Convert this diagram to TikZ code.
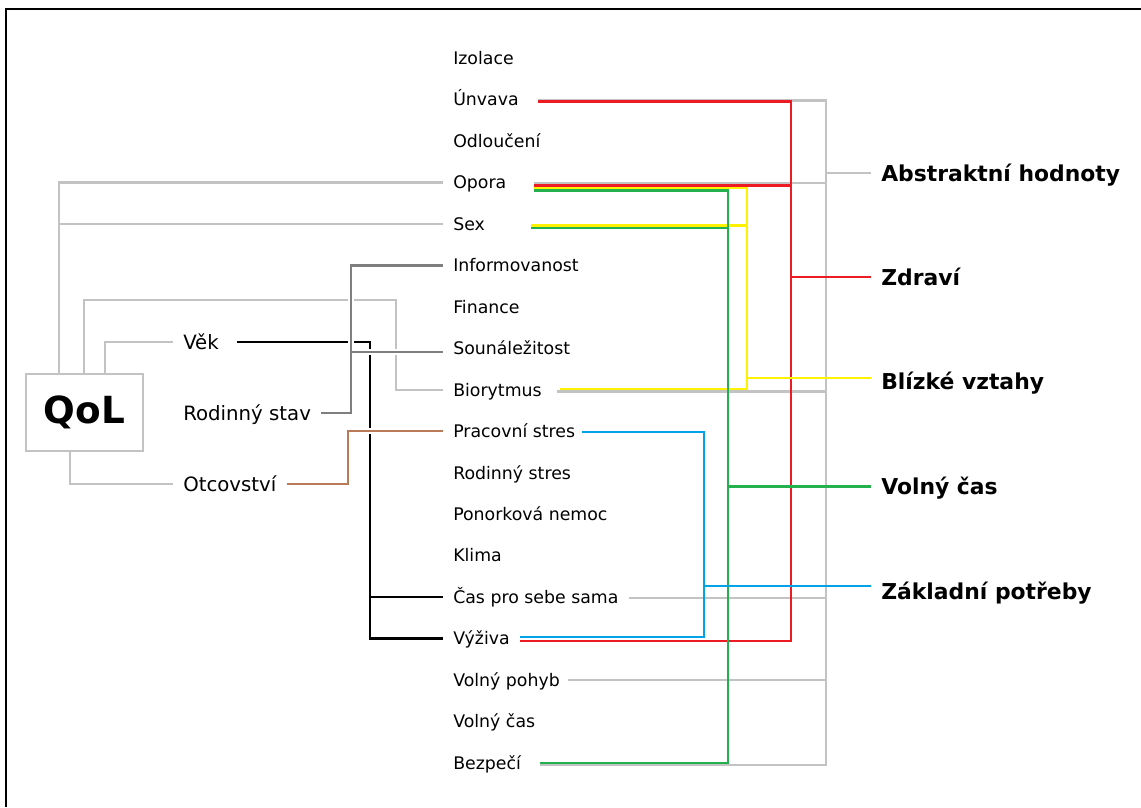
\documentclass[tikz,border=0pt]{standalone}
\usepackage{fontspec}
\setmainfont{DejaVu Sans}
\usetikzlibrary{calc}

\definecolor{cLight}{RGB}{195,195,195}
\definecolor{cDark}{RGB}{127,127,127}
\definecolor{cBrown}{RGB}{185,122,87}
\definecolor{cRed}{RGB}{237,28,36}
\definecolor{cYellow}{RGB}{255,242,0}
\definecolor{cGreen}{RGB}{34,177,76}
\definecolor{cBlue}{RGB}{0,162,232}

\begin{document}
\begin{tikzpicture}[x=0.75pt,y=0.75pt,yscale=-1,xscale=1,
  lbl/.style={anchor=west,inner xsep=7.5pt,inner ysep=0pt,text height=9.5pt,text depth=0pt,font=\fontsize{13}{15}\selectfont},
  who/.style={anchor=west,inner xsep=7.5pt,inner ysep=0pt,text height=10.8pt,text depth=0pt,font=\fontsize{14.8}{17}\selectfont},
  grp/.style={anchor=west,inner xsep=7.5pt,inner ysep=0pt,text height=12pt,text depth=0pt,font=\fontsize{16.4}{19}\selectfont\bfseries},
  wire/.style={line width=1.85pt},
  over/.style={preaction={draw=white,line width=4.8pt}}]
\useasboundingbox (0,0) rectangle (1141,807);
%Frame
\draw [line width=1.5pt] (6,807) -- (6,9) -- (1141,9);

%Shape: QoL box
\node [draw=cLight,line width=2.2pt,minimum width=87.75pt,minimum height=57.75pt,inner sep=0pt,font=\fontsize{28}{30}\selectfont\bfseries] (qol) at (84.5,412.5) {QoL};

%Text Node: factors
\node [lbl] (izo) at (443,58) {Izolace};
\node [lbl] (unv) at (443,99.5) {Únvava};
\node [lbl] (odl) at (443,140.9) {Odloučení};
\node [lbl] (opo) at (443,182.4) {Opora};
\node [lbl] (sex) at (443,223.9) {Sex};
\node [lbl] (inf) at (443,265.4) {Informovanost};
\node [lbl] (fin) at (443,306.8) {Finance};
\node [lbl] (sou) at (443,348.3) {Sounáležitost};
\node [lbl] (bio) at (443,389.8) {Biorytmus};
\node [lbl] (pra) at (443,431.2) {Pracovní stres};
\node [lbl] (rst) at (443,472.7) {Rodinný stres};
\node [lbl] (pon) at (443,514.2) {Ponorková nemoc};
\node [lbl] (kli) at (443,555.6) {Klima};
\node [lbl] (cas) at (443,597.1) {Čas pro sebe sama};
\node [lbl] (vyz) at (443,638.6) {Výživa};
\node [lbl] (vpo) at (443,680) {Volný pohyb};
\node [lbl] (vcs) at (443,721.5) {Volný čas};
\node [lbl] (bez) at (443,763) {Bezpečí};

%Text Node: persons
\node [who] (vek) at (173,342) {Věk};
\node [who] (rod) at (173,413) {Rodinný stav};
\node [who] (otc) at (173,484) {Otcovství};

%Text Node: groups
\node [grp] (abs) at (871,173) {Abstraktní hodnoty};
\node [grp] (zdr) at (871,277) {Zdraví};
\node [grp] (blz) at (871,381.5) {Blízké vztahy};
\node [grp] (vol) at (871,486.5) {Volný čas};
\node [grp] (zak) at (871,591.5) {Základní potřeby};

%Buses
\coordinate (bAbs) at (826,0);
\coordinate (bRed) at (791,0);
\coordinate (bYel) at (747,0);
\coordinate (bGrn) at (728,0);
\coordinate (bBlu) at (704,0);
\coordinate (bBlk) at (370,0);
\coordinate (bDrk) at (351,0);
\coordinate (bBrn) at (348,0);
\coordinate (jBio) at (396,300);
\coordinate (souL) at ($(sou.west)+(0,3.5)$);

%Line ends
\coordinate (unvG) at ($(unv.east)+(9,1)$);
\coordinate (unvR) at ($(unv.east)+(9,2)$);
\coordinate (opoG) at ($(opo.east)+(17,0.6)$);
\coordinate (opoR) at ($(opo.east)+(17,3)$);
\coordinate (opoY) at ($(opo.east)+(17,5.5)$);
\coordinate (opoV) at ($(opo.east)+(17,8)$);
\coordinate (sexY) at ($(sex.east)+(36,1.5)$);
\coordinate (sexV) at ($(sex.east)+(36,4)$);
\coordinate (bioG) at ($(bio.east)+(5,1.5)$);
\coordinate (bioY) at ($(bio.east)+(8,-0.8)$);
\coordinate (praB) at ($(pra.east)+(-3,1)$);
\coordinate (casG) at ($(cas.east)+(0,1)$);
\coordinate (vyzB) at ($(vyz.east)+(0,-1.6)$);
\coordinate (vyzR) at ($(vyz.east)+(0,2.4)$);
\coordinate (vpoG) at ($(vpo.east)+(-2,0)$);
\coordinate (bezG) at ($(bez.east)+(9,2)$);
\coordinate (bezV) at ($(bez.east)+(9,0)$);
\coordinate (blzL) at ($(blz.west)+(0,-3.5)$);
\coordinate (zakL) at ($(zak.west)+(0,-5.5)$);

%Left side: QoL
\draw [wire,cLight] (qol.north -| 59,0) |- (opo.west);
\draw [wire,cLight] (qol.north -| 59,0) |- (sex.west);
\draw [wire,cLight] (qol.north -| 84,0) |- (jBio) |- (bio.west);
\draw [wire,cLight] (qol.north -| 105,0) |- (vek.west);
\draw [wire,cLight] (qol.south -| 70,0) |- (otc.west);
%Věk
\draw [wire] ($(vek.east)+(8,0)$) -| (bBlk |- vyz.west) -- (vyz.west);
\draw [wire] (bBlk |- cas.west) -- (cas.west);
%Rodinný stav
\draw [wire,cDark,over] (rod.east) -| (bDrk |- inf.west) -- (inf.west) (bDrk |- souL) -- (souL);
%Otcovství
\draw [wire,cBrown,over] (otc.east) -| (bBrn |- pra.west) -- (pra.west);

%Right side: Abstraktní hodnoty
\draw [wire,cLight] (unvG) -- (bAbs |- unvG) -- (bAbs |- bezG) -- (bezG);
\draw [wire,cLight] (opoG) -- (bAbs |- opoG);
\draw [wire,cLight] (bioG) -- (bAbs |- bioG);
\draw [wire,cLight] (casG) -- (bAbs |- casG);
\draw [wire,cLight] (vpoG) -- (bAbs |- vpoG);
\draw [wire,cLight] (bAbs |- abs.west) -- (abs.west);
%Zdraví
\draw [wire,cRed] (unvR) -| (bRed |- vyzR) -- (vyzR);
\draw [wire,cRed] (opoR) -- (bRed |- opoR);
\draw [wire,cRed] (bRed |- zdr.west) -- (zdr.west);
%Blízké vztahy
\draw [wire,cYellow] (opoY) -| (bYel |- bioY) -- (bioY);
\draw [wire,cYellow] (sexY) -- (bYel |- sexY);
\draw [wire,cYellow] (bYel |- blzL) -- (blzL);
%Volný čas
\draw [wire,cGreen] (opoV) -| (bGrn |- bezV) -- (bezV);
\draw [wire,cGreen] (sexV) -- (bGrn |- sexV);
\draw [wire,cGreen] (bGrn |- vol.west) -- (vol.west);
%Základní potřeby
\draw [wire,cBlue] (praB) -| (bBlu |- vyzB) -- (vyzB);
\draw [wire,cBlue] (bBlu |- zakL) -- (zakL);
\end{tikzpicture}
\end{document}
